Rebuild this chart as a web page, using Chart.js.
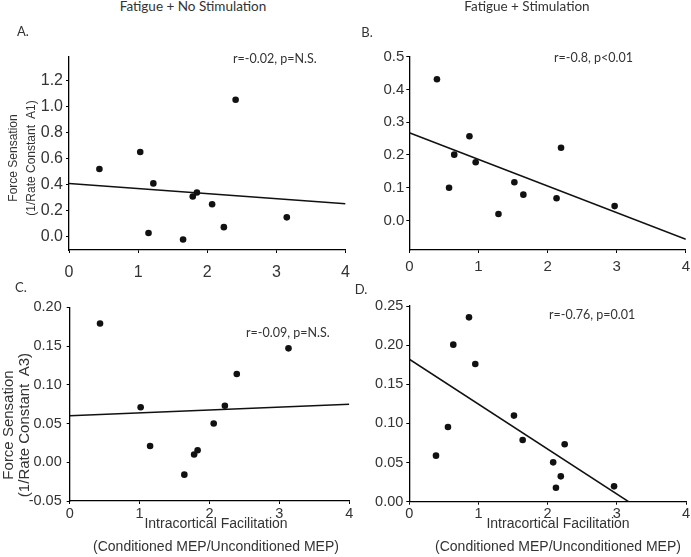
<!DOCTYPE html>
<html><head><meta charset="utf-8">
<script src="https://cdn.jsdelivr.net/npm/chart.js@4.4.1/dist/chart.umd.min.js"></script>
<style>
html,body{margin:0;padding:0;background:#fff;overflow:hidden;width:691px;height:557px;position:relative;}
canvas{position:absolute;}
.t{position:absolute;white-space:nowrap;color:#333;font-family:Lato,'Open Sans',sans-serif;line-height:1;}
.cc{transform:translate(-50%,-50%);}
.lc{transform:translate(0,-50%);}
.xt{position:absolute;white-space:nowrap;color:#333;font-family:'Liberation Sans',Arial,sans-serif;text-align:center;transform:translate(-50%,-50%);}
.yt{position:absolute;white-space:nowrap;color:#333;font-family:'Liberation Sans',Arial,sans-serif;text-align:center;transform:translate(-50%,-50%) rotate(-90deg);}
</style></head><body>
<canvas id="cA" width="360" height="250" style="left:0;top:30px"></canvas>
<canvas id="cB" width="350" height="250" style="left:345px;top:30px"></canvas>
<canvas id="cC" width="360" height="267" style="left:0;top:290px"></canvas>
<canvas id="cD" width="350" height="267" style="left:345px;top:290px"></canvas>

<div class="t cc" style="left:193px;top:7px;font-size:13.5px">Fatigue + No Stimulation</div>
<div class="t cc" style="left:527px;top:7px;font-size:13.5px">Fatigue + Stimulation</div>
<div class="t cc" style="left:23px;top:31px;font-size:13px">A.</div>
<div class="t cc" style="left:367px;top:32px;font-size:13px">B.</div>
<div class="t cc" style="left:21px;top:287px;font-size:13px">C.</div>
<div class="t cc" style="left:361px;top:289px;font-size:13px">D.</div>

<div class="t lc" style="left:233px;top:59px;font-size:12.5px">r=-0.02, p=N.S.</div>
<div class="t lc" style="left:554px;top:58px;font-size:12.5px">r=-0.8, p&lt;0.01</div>
<div class="t lc" style="left:246px;top:333px;font-size:12.5px">r=-0.09, p=N.S.</div>
<div class="t lc" style="left:549px;top:315px;font-size:12.5px">r=-0.76, p=0.01</div>

<div class="yt" style="left:22px;top:158px;font-size:12px;line-height:18px">Force Sensation<br>(1/Rate Constant&nbsp; A1)</div>
<div class="yt" style="left:16px;top:425px;font-size:15px;line-height:16px">Force Sensation<br>(1/Rate Constant&nbsp; A3)</div>

<div class="xt" style="left:216px;top:535px;font-size:14px;line-height:23px">Intracortical Facilitation<br>(Conditioned MEP/Unconditioned MEP)</div>
<div class="xt" style="left:558px;top:535px;font-size:14px;line-height:23px">Intracortical Facilitation<br>(Conditioned MEP/Unconditioned MEP)</div>

<script>
// ---- data ----
const xTicks = [0, 1, 2, 3, 4];
const xTickLabels = ['0', '1', '2', '3', '4'];

// Panel A: Fatigue + No Stimulation (A1)
const icfA = [0.44, 1.03, 1.22, 1.15, 1.65, 1.79, 1.85, 2.07, 2.24, 2.41, 3.15];
const fsA  = [0.52, 0.65, 0.41, 0.03, -0.02, 0.31, 0.34, 0.25, 0.075, 1.05, 0.15];
const fitXA = [0, 4];
const fitYA = [0.41, 0.255];
const yTicksA = [0, 0.2, 0.4, 0.6, 0.8, 1.0, 1.2];
const yLabelsA = ['0.0', '0.2', '0.4', '0.6', '0.8', '1.0', '1.2'];

// Panel B: Fatigue + Stimulation (A1)
const icfB = [0.40, 0.575, 0.65, 0.87, 0.96, 1.29, 1.52, 1.65, 2.13, 2.195, 2.97];
const fsB  = [0.431, 0.10, 0.201, 0.257, 0.178, 0.020, 0.117, 0.079, 0.068, 0.222, 0.044];
const fitXB = [0, 4];
const fitYB = [0.268, -0.057];
const yTicksB = [0, 0.1, 0.2, 0.3, 0.4, 0.5];
const yLabelsB = ['0.0', '0.1', '0.2', '0.3', '0.4', '0.5'];

// Panel C: Fatigue + No Stimulation (A3)
const icfC = [0.434, 1.015, 1.15, 1.64, 1.78, 1.83, 2.06, 2.22, 2.39, 3.13];
const fsC  = [0.179, 0.071, 0.021, -0.016, 0.010, 0.0155, 0.050, 0.073, 0.114, 0.147];
const fitXC = [0, 4];
const fitYC = [0.060, 0.075];
const yTicksC = [-0.05, 0, 0.05, 0.10, 0.15, 0.20];
const yLabelsC = ['-0.05', '0.00', '0.05', '0.10', '0.15', '0.20'];

// Panel D: Fatigue + Stimulation (A3)
const icfD = [0.386, 0.559, 0.636, 0.863, 0.954, 1.513, 1.639, 2.08, 2.12, 2.19, 2.246, 2.96];
const fsD  = [0.0588, 0.0954, 0.2006, 0.2355, 0.176, 0.110, 0.0788, 0.0503, 0.0179, 0.0324, 0.0733, 0.0196];
const fitXD = [0, 3.17];
const fitYD = [0.182, 0];
const yTicksD = [0, 0.05, 0.10, 0.15, 0.20, 0.25];
const yLabelsD = ['0.00', '0.05', '0.10', '0.15', '0.20', '0.25'];

function build(id, xs, ys, fx, fy, yMin, yMax, yTicks, yLabels, L) {
  const pts = xs.map((x, i) => ({x: x, y: ys[i]}));
  const fit = fx.map((x, i) => ({x: x, y: fy[i]}));
  const tickFont = {family: "'Liberation Sans', Arial, sans-serif", size: L.fs};
  new Chart(document.getElementById(id), {
    type: 'scatter',
    data: {datasets: [
      {data: fit, showLine: true, borderColor: '#111', borderWidth: 1.5, pointRadius: 0, pointHoverRadius: 0, order: 2},
      {data: pts, pointRadius: 3.3, pointHoverRadius: 3.3, backgroundColor: '#111', borderWidth: 0, order: 1}
    ]},
    options: {
      responsive: false, animation: false, events: [],
      layout: {padding: {left: 0, top: L.t, right: L.r, bottom: 0}},
      plugins: {legend: {display: false}, tooltip: {enabled: false}},
      scales: {
        x: {
          type: 'linear', position: 'bottom', min: 0, max: 4,
          afterBuildTicks: s => { s.ticks = xTicks.map(v => ({value: v})); },
          afterFit: s => { s.height = L.xh; },
          ticks: {callback: (v, i) => xTickLabels[i], font: tickFont, color: '#333', padding: L.xp, maxRotation: 0, autoSkip: false},
          grid: {drawOnChartArea: false, drawTicks: true, tickLength: 3, color: '#000', lineWidth: 1},
          border: {display: true, color: '#000', width: 1.3}
        },
        y: {
          type: 'linear', position: 'left', min: yMin, max: yMax,
          afterBuildTicks: s => { s.ticks = yTicks.map(v => ({value: v})); },
          afterFit: s => { s.width = L.yw; },
          ticks: {callback: (v, i) => yLabels[i], font: tickFont, color: '#333', padding: L.yp, autoSkip: false},
          grid: {drawOnChartArea: false, drawTicks: true, tickLength: 3, color: '#000', lineWidth: 1},
          border: {display: true, color: '#000', width: 1.3}
        }
      }
    }
  });
}

build('cA', icfA, fsA, fitXA, fitYA, -0.1, 1.38, yTicksA, yLabelsA, {t: 26.7, r: 11.4, yw: 69, xh: 30, fs: 16, xp: 10, yp: 3});
build('cB', icfB, fsB, fitXB, fitYB, -0.09, 0.5, yTicksB, yLabelsB, {t: 26.7, r: 7, yw: 64.3, xh: 30, fs: 15, xp: 5, yp: 2});
build('cC', icfC, fsC, fitXC, fitYC, -0.05, 0.20, yTicksC, yLabelsC, {t: 17.3, r: 10.7, yw: 69.7, xh: 56, fs: 14.5, xp: 1, yp: 5});
build('cD', icfD, fsD, fitXD, fitYD, 0, 0.25, yTicksD, yLabelsD, {t: 16, r: 9, yw: 64.3, xh: 55.3, fs: 14.5, xp: 1, yp: 3});
</script>
</body></html>
